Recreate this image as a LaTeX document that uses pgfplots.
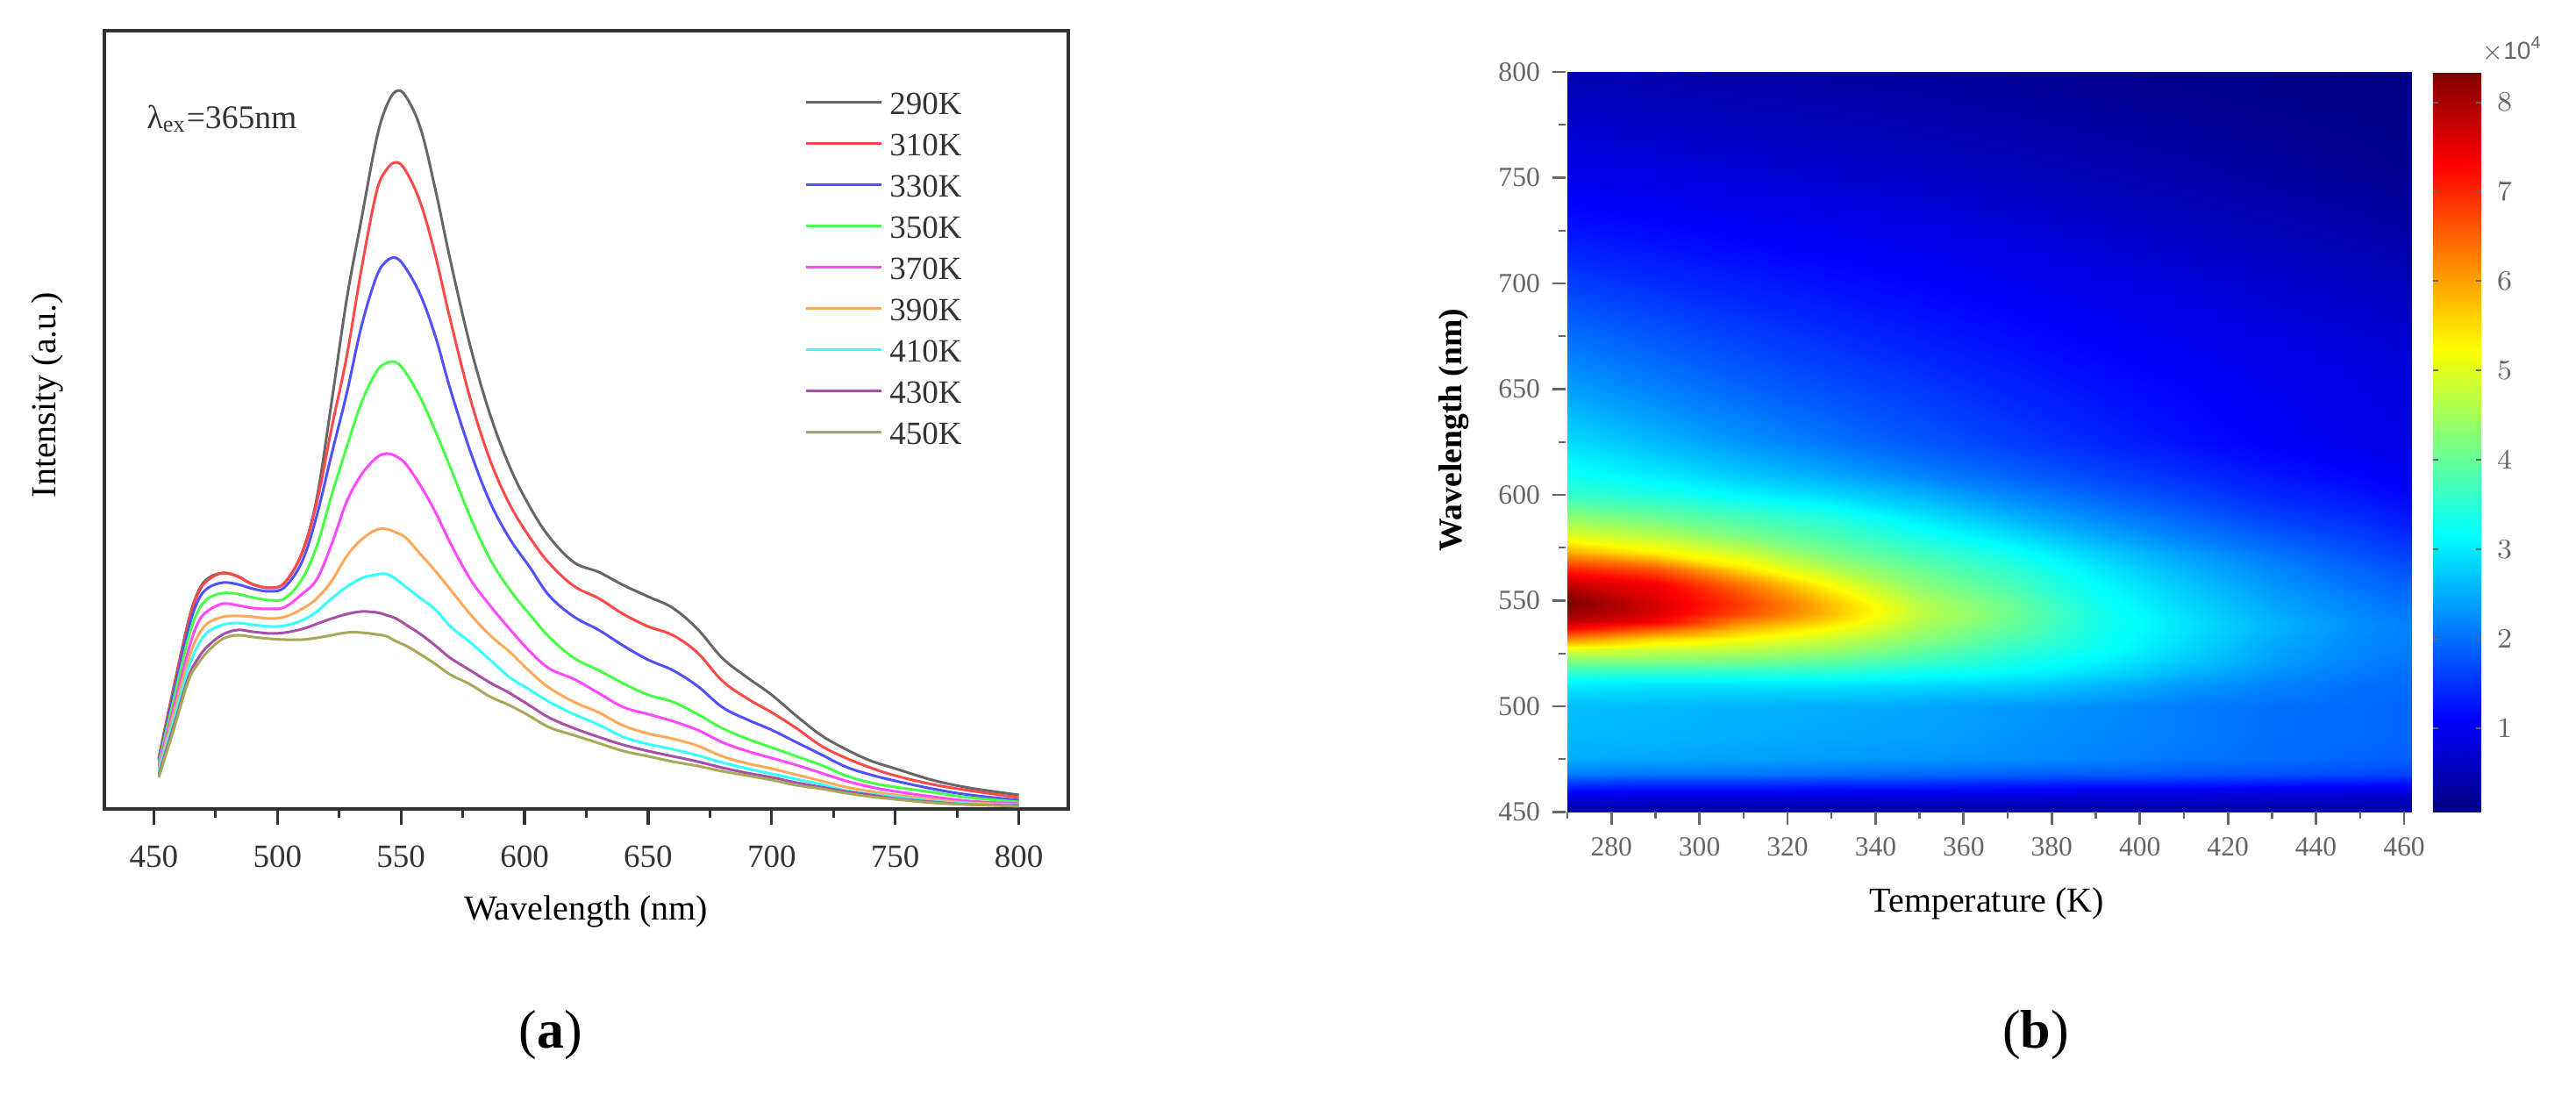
\documentclass[border=0pt]{standalone}
\usepackage{pgfplots}
\usepackage{pgfplotstable}
\usepackage{fontspec}
\pgfplotsset{compat=1.18}
\setmainfont{Liberation Serif}
\newfontfamily\lsans{Liberation Sans}
\definecolor{cgray}{HTML}{666666}
\definecolor{cred}{HTML}{FF4848}
\definecolor{cblue}{HTML}{5050FF}
\definecolor{cgreen}{HTML}{48FF48}
\definecolor{cmag}{HTML}{FF48FF}
\definecolor{corange}{HTML}{FFA858}
\definecolor{ccyan}{HTML}{38FFFF}
\definecolor{cpur}{HTML}{A850A8}
\definecolor{coli}{HTML}{A8A858}
\definecolor{txta}{HTML}{333333}
\definecolor{txtb}{HTML}{666666}
\pgfplotstableread{
wl a b c d e f g h i
452 58 57 55 52 49 46 43 39 36
458 138 136 131 124 115 108 101 94 90
464 214 212 205 195 181 170 160 150 146
468 248 246 238 226 213 198 187 172 166
472 263 261 252 240 226 212 202 186 180
478 269 269 258 246 234 219 210 199 194
484 265 265 256 245 232 220 212 204 198
490 256 256 251 241 229 219 210 202 196
497 252 252 248 238 228 217 208 200 194
503 258 258 253 240 230 219 209 201 193
510 292 292 282 262 245 228 215 205 193
516 355 350 335 300 262 240 225 211 195
522 465 435 405 358 302 260 240 217 198
528 580 515 473 412 350 288 253 222 201
534 672 615 550 463 381 307 263 225 201
540 762 702 606 498 400 318 267 224 199
544 800 728 624 508 405 319 268 221 197
548 818 737 628 509 402 315 262 217 191
552 812 727 616 497 393 309 253 210 186
558 775 690 585 468 368 290 240 199 176
564 705 630 538 430 338 271 227 186 165
570 625 557 478 389 303 250 208 172 153
578 528 468 408 333 262 222 190 158 142
586 450 398 350 285 232 198 170 144 128
594 390 347 308 250 205 179 150 132 118
602 345 310 276 222 180 157 136 118 106
610 310 280 243 196 160 138 122 104 93
620 281 254 219 172 148 122 108 92 84
630 270 240 204 158 132 110 96 82 75
640 255 222 186 143 116 95 82 73 66
650 242 208 170 130 108 86 74 66 60
660 229 198 158 122 100 80 68 60 54
670 205 178 140 108 90 72 61 54 49
680 172 146 116 92 76 60 53 47 43
690 150 126 102 80 66 52 46 41 38
700 130 110 90 70 58 46 40 36 33
710 106 92 76 60 50 39 34 30 27
720 84 72 62 50 41 32 28 25 23
730 68 58 48 38 32 25 21 20 18
740 55 47 39 30 25 20 17 16 14
750 46 38 32 25 20 16 14 12 11
765 33 28 23 19 14 11 9 8 7
780 24 21 16 13 9 7 6 5 5
800 16 13 10 8 6 5 4 4 3
}\spectra
\begin{document}
\begin{tikzpicture}
\path[use as bounding box] (0,0) rectangle (734.25pt,312pt);
\begin{axis}[
  scale only axis, at={(29.75pt,81.5pt)}, anchor=south west,
  width=274.75pt, height=221.75pt,
  xmin=430, xmax=820, ymin=0, ymax=887,
  xtick={450,500,...,800}, minor xtick={475,525,...,775},
  ytick=\empty, xtick pos=bottom,
  tick align=outside,
  major tick length=4.5pt, minor tick length=2.5pt,
  every tick/.style={draw=txta, line width=.8pt},
  minor tick style={draw=txta, line width=.7pt},
  axis line style={draw=txta, line width=.9pt},
  /pgf/number format/assume math mode=true,
  tick label style={font=\fontsize{9.25}{11}\selectfont, text=txta},
  xticklabel style={yshift=-2.5pt},
  xlabel={Wavelength (nm)}, ylabel={Intensity (a.u.)},
  label style={font=\fontsize{10.4}{12}\selectfont, text=txta},
  every axis x label/.style={at={(axis description cs:.4995,-0.132)},anchor=center},
  every axis y label/.style={at={(axis description cs:-0.059,0.532)},anchor=center,rotate=90},
  legend style={draw=none, fill=none, at={(axis description cs:0.726,0.925)}, anchor=north west,
     inner sep=0pt, font=\fontsize{9.25}{11}\selectfont, text=txta,
     row sep=4.75pt, nodes={inner sep=0pt, text height=7pt, text depth=0pt, anchor=west}},
  legend cell align=left,
  legend image code/.code={\draw[#1] (0pt,0pt) -- (21.5pt,0pt); \path (23.4pt,0pt);},
  every axis plot/.append style={line width=.75pt, no markers, smooth, tension=.6},
]
\addplot[cgray] table[x=wl,y=a] {\spectra}; \addlegendentry{290K}
\addplot[cred] table[x=wl,y=b] {\spectra}; \addlegendentry{310K}
\addplot[cblue] table[x=wl,y=c] {\spectra}; \addlegendentry{330K}
\addplot[cgreen] table[x=wl,y=d] {\spectra}; \addlegendentry{350K}
\addplot[cmag] table[x=wl,y=e] {\spectra}; \addlegendentry{370K}
\addplot[corange] table[x=wl,y=f] {\spectra}; \addlegendentry{390K}
\addplot[ccyan] table[x=wl,y=g] {\spectra}; \addlegendentry{410K}
\addplot[cpur] table[x=wl,y=h] {\spectra}; \addlegendentry{430K}
\addplot[coli] table[x=wl,y=i] {\spectra}; \addlegendentry{450K}
\node[anchor=center, font=\fontsize{9.4}{11}\selectfont, text=txta] at (axis description cs:0.122,0.887) {λ\textsubscript{ex}=365nm};
\end{axis}
\begin{axis}[
  scale only axis, at={(446.25pt,80.625pt)}, anchor=south west,
  width=241pt, height=210.875pt,
  xmin=269.6, xmax=461.6, ymin=450, ymax=800,
  view={0}{90},
  xtick={280,300,...,460}, minor xtick={270,290,...,450},
  ytick={450,500,...,800}, minor ytick={475,525,...,775},
  xtick pos=bottom, ytick pos=left, tick align=outside,
  major tick length=3.75pt, minor tick length=2pt,
  every tick/.style={draw=txtb, line width=.7pt},
  minor tick style={draw=txtb, line width=.6pt},
  axis line style={draw=none},
  /pgf/number format/assume math mode=true,
  /pgf/number format/1000 sep={},
  tick label style={font=\fontsize{7.9}{9}\selectfont, text=txtb},
  xlabel={Temperature (K)}, ylabel={Wavelength (nm)},
  label style={font=\fontsize{9}{11}\selectfont, text=txtb!70!black},
  every axis x label/.style={at={(axis description cs:.498,-0.124)},anchor=center},
  every axis y label/.style={at={(axis description cs:-0.132,0.516)},anchor=center,rotate=90,font=\fontsize{9.4}{11}\selectfont\bfseries},
  colormap/jet,
  point meta min=0.06, point meta max=8.34,
  colorbar,
  colorbar style={
    at={(1.0259,0)}, anchor=south west,
    width=13.75pt,
    axis line style={draw=none},
    ytick={1,2,...,8},
    yticklabel pos=right,
    tick align=inside, major tick length=1.5pt,
    every tick/.style={draw=txtb, line width=.5pt},
    tick label style={font=\fontsize{7.9}{9}\selectfont, text=txtb},
    yticklabel style={xshift=1pt},
  },
]
\addplot3[surf, shader=interp, mesh/cols=11] table[row sep=\\] {
x y z\\
270 800 .45\\ 290 800 .40\\ 310 800 .35\\ 330 800 .32\\ 350 800 .28\\ 370 800 .24\\ 390 800 .20\\ 410 800 .17\\ 430 800 .14\\ 450 800 .11\\ 462 800 .09\\
270 775 .70\\ 290 775 .62\\ 310 775 .55\\ 330 775 .50\\ 350 775 .44\\ 370 775 .38\\ 390 775 .32\\ 410 775 .27\\ 430 775 .22\\ 450 775 .18\\ 462 775 .15\\
270 750 .95\\ 290 750 .88\\ 310 750 .80\\ 330 750 .72\\ 350 750 .65\\ 370 750 .56\\ 390 750 .48\\ 410 750 .40\\ 430 750 .32\\ 450 750 .25\\ 462 750 .20\\
270 725 1.25\\ 290 725 1.15\\ 310 725 1.05\\ 330 725 .98\\ 350 725 .90\\ 370 725 .80\\ 390 725 .70\\ 410 725 .60\\ 430 725 .50\\ 450 725 .40\\ 462 725 .34\\
270 700 1.6\\ 290 700 1.45\\ 310 700 1.32\\ 330 700 1.2\\ 350 700 1.1\\ 370 700 1.0\\ 390 700 .9\\ 410 700 .8\\ 430 700 .7\\ 450 700 .6\\ 462 700 .55\\
270 675 2.0\\ 290 675 1.8\\ 310 675 1.6\\ 330 675 1.45\\ 350 675 1.3\\ 370 675 1.18\\ 390 675 1.06\\ 410 675 .96\\ 430 675 .86\\ 450 675 .77\\ 462 675 .72\\
270 650 2.4\\ 290 650 2.15\\ 310 650 1.92\\ 330 650 1.72\\ 350 650 1.55\\ 370 650 1.38\\ 390 650 1.22\\ 410 650 1.1\\ 430 650 .98\\ 450 650 .88\\ 462 650 .82\\
270 625 2.9\\ 290 625 2.6\\ 310 625 2.3\\ 330 625 2.05\\ 350 625 1.8\\ 370 625 1.6\\ 390 625 1.4\\ 410 625 1.22\\ 430 625 1.05\\ 450 625 .93\\ 462 625 .86\\
270 610 3.25\\ 290 610 3.0\\ 310 610 2.7\\ 330 610 2.45\\ 350 610 2.15\\ 370 610 1.9\\ 390 610 1.65\\ 410 610 1.45\\ 430 610 1.25\\ 450 610 1.1\\ 462 610 1.0\\
270 600 3.6\\ 290 600 3.4\\ 310 600 3.1\\ 330 600 2.85\\ 350 600 2.55\\ 370 600 2.2\\ 390 600 1.9\\ 410 600 1.65\\ 430 600 1.4\\ 450 600 1.25\\ 462 600 1.1\\
270 590 4.3\\ 290 590 4.0\\ 310 590 3.7\\ 330 590 3.4\\ 350 590 2.95\\ 370 590 2.55\\ 390 590 2.2\\ 410 590 1.9\\ 430 590 1.6\\ 450 590 1.42\\ 462 590 1.25\\
270 580 5.05\\ 290 580 4.7\\ 310 580 4.2\\ 330 580 3.8\\ 350 580 3.35\\ 370 580 2.95\\ 390 580 2.5\\ 410 580 2.15\\ 430 580 1.85\\ 450 580 1.6\\ 462 580 1.42\\
270 572 6.0\\ 290 572 5.4\\ 310 572 4.85\\ 330 572 4.15\\ 350 572 3.7\\ 370 572 3.3\\ 390 572 2.8\\ 410 572 2.4\\ 430 572 2.05\\ 450 572 1.75\\ 462 572 1.58\\
270 565 7.0\\ 290 565 6.6\\ 310 565 5.45\\ 330 565 4.6\\ 350 565 4.0\\ 370 565 3.55\\ 390 565 3.0\\ 410 565 2.55\\ 430 565 2.2\\ 450 565 1.9\\ 462 565 1.72\\
270 558 7.75\\ 290 558 7.35\\ 310 558 6.3\\ 330 558 5.15\\ 350 558 4.25\\ 370 558 3.75\\ 390 558 3.15\\ 410 558 2.7\\ 430 558 2.3\\ 450 558 2.0\\ 462 558 1.85\\
270 552 8.25\\ 290 552 7.55\\ 310 552 6.7\\ 330 552 5.55\\ 350 552 4.5\\ 370 552 3.95\\ 390 552 3.25\\ 410 552 2.8\\ 430 552 2.4\\ 450 552 2.1\\ 462 552 1.95\\
270 548 8.34\\ 290 548 7.65\\ 310 548 6.8\\ 330 548 5.75\\ 350 548 4.65\\ 370 548 4.05\\ 390 548 3.3\\ 410 548 2.85\\ 430 548 2.45\\ 450 548 2.15\\ 462 548 2.0\\
270 544 8.15\\ 290 544 7.6\\ 310 544 6.7\\ 330 544 5.75\\ 350 544 4.7\\ 370 544 4.1\\ 390 544 3.35\\ 410 544 2.9\\ 430 544 2.5\\ 450 544 2.2\\ 462 544 2.05\\
270 540 7.8\\ 290 540 7.35\\ 310 540 6.2\\ 330 540 5.5\\ 350 540 4.6\\ 370 540 4.05\\ 390 540 3.35\\ 410 540 2.95\\ 430 540 2.55\\ 450 540 2.25\\ 462 540 2.1\\
270 536 7.15\\ 290 536 6.5\\ 310 536 5.7\\ 330 536 5.15\\ 350 536 4.45\\ 370 536 3.95\\ 390 536 3.33\\ 410 536 2.95\\ 430 536 2.55\\ 450 536 2.25\\ 462 536 2.12\\
270 532 6.2\\ 290 532 5.6\\ 310 532 5.2\\ 330 532 4.8\\ 350 532 4.3\\ 370 532 3.8\\ 390 532 3.3\\ 410 532 2.9\\ 430 532 2.5\\ 450 532 2.22\\ 462 532 2.1\\
270 527 5.05\\ 290 527 4.8\\ 310 527 4.7\\ 330 527 4.45\\ 350 527 4.0\\ 370 527 3.6\\ 390 527 3.25\\ 410 527 2.85\\ 430 527 2.45\\ 450 527 2.2\\ 462 527 2.08\\
270 522 4.3\\ 290 522 4.3\\ 310 522 4.2\\ 330 522 4.0\\ 350 522 3.7\\ 370 522 3.4\\ 390 522 3.1\\ 410 522 2.75\\ 430 522 2.4\\ 450 522 2.15\\ 462 522 2.05\\
270 517 3.65\\ 290 517 3.65\\ 310 517 3.6\\ 330 517 3.55\\ 350 517 3.35\\ 370 517 3.2\\ 390 517 2.95\\ 410 517 2.6\\ 430 517 2.3\\ 450 517 2.1\\ 462 517 2.0\\
270 510 3.0\\ 290 510 2.95\\ 310 510 2.95\\ 330 510 2.95\\ 350 510 2.85\\ 370 510 2.8\\ 390 510 2.6\\ 410 510 2.35\\ 430 510 2.15\\ 450 510 2.0\\ 462 510 1.95\\
270 500 2.65\\ 290 500 2.6\\ 310 500 2.55\\ 330 500 2.5\\ 350 500 2.45\\ 370 500 2.35\\ 390 500 2.25\\ 410 500 2.1\\ 430 500 2.0\\ 450 500 1.95\\ 462 500 1.9\\
270 485 2.6\\ 290 485 2.55\\ 310 485 2.5\\ 330 485 2.45\\ 350 485 2.4\\ 370 485 2.3\\ 390 485 2.2\\ 410 485 2.1\\ 430 485 2.0\\ 450 485 1.95\\ 462 485 1.9\\
270 475 2.5\\ 290 475 2.45\\ 310 475 2.4\\ 330 475 2.35\\ 350 475 2.3\\ 370 475 2.25\\ 390 475 2.15\\ 410 475 2.05\\ 430 475 1.98\\ 450 475 1.9\\ 462 475 1.85\\
270 468 2.1\\ 290 468 2.05\\ 310 468 2.05\\ 330 468 2.0\\ 350 468 1.95\\ 370 468 1.9\\ 390 468 1.85\\ 410 468 1.8\\ 430 468 1.75\\ 450 468 1.7\\ 462 468 1.65\\
270 463 1.5\\ 290 463 1.45\\ 310 463 1.45\\ 330 463 1.4\\ 350 463 1.4\\ 370 463 1.35\\ 390 463 1.3\\ 410 463 1.3\\ 430 463 1.25\\ 450 463 1.2\\ 462 463 1.15\\
270 458 .95\\ 290 458 .9\\ 310 458 .9\\ 330 458 .9\\ 350 458 .85\\ 370 458 .85\\ 390 458 .8\\ 410 458 .8\\ 430 458 .75\\ 450 458 .7\\ 462 458 .7\\
270 450 .3\\ 290 450 .3\\ 310 450 .3\\ 330 450 .3\\ 350 450 .3\\ 370 450 .3\\ 390 450 .3\\ 410 450 .3\\ 430 450 .3\\ 450 450 .3\\ 462 450 .3\\
};
\end{axis}
\node[font=\lsans\fontsize{7}{8}\selectfont, text=txtb] at (716pt,298pt) {$\times$10\textsuperscript{4}};
\node[font=\fontsize{15.5}{18}\selectfont, text=black] at (157pt,17pt) {(\textbf{a})};
\node[font=\fontsize{15.5}{18}\selectfont, text=black] at (580.25pt,17pt) {(\textbf{b})};
\end{tikzpicture}
\end{document}
